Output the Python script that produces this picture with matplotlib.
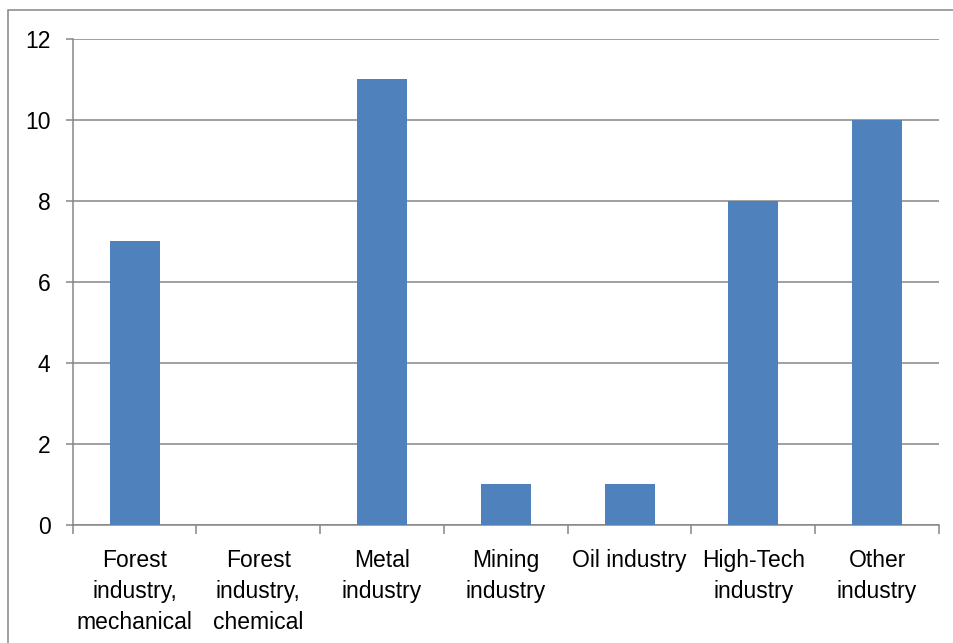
import numpy as np
import matplotlib.pyplot as plt
from matplotlib.patches import Rectangle

categories = ['Forest\nindustry,\nmechanical', 'Forest\nindustry,\nchemical',
              'Metal\nindustry', 'Mining\nindustry', 'Oil industry',
              'High-Tech\nindustry', 'Other\nindustry']
values = [7, 0, 11, 1, 1, 8, 10]
y_ticks = [0, 2, 4, 6, 8, 10, 12]

plt.rcParams['font.family'] = ['Liberation Sans', 'DejaVu Sans']

W, H = 954, 643
fig = plt.figure(figsize=(W / 100, H / 100), dpi=100)
ax = fig.add_axes([72.7 / W, (H - 525) / H, (939 - 72.7) / W, (525 - 38.5) / H])

grey = '#868686'
x = np.arange(len(categories))
ax.bar(x, values, width=0.404, color='#4F81BD', zorder=3)

ax.set_xlim(-0.5, len(categories) - 0.5)
ax.set_ylim(0, 12)
ax.set_yticks(y_ticks)
ax.yaxis.grid(True, color=grey, linewidth=1.1, zorder=0)

ax.set_xticks(x)
ax.set_xticklabels(categories, fontsize=16.5)
for lbl in ax.get_xticklabels():
    lbl.set_linespacing(1.45)
ax.set_xticks(np.arange(len(categories) + 1) - 0.5, minor=True)
ax.tick_params(axis='x', which='major', length=0, pad=17)
ax.tick_params(axis='x', which='minor', length=6.5, width=1.1, color=grey)
ax.tick_params(axis='y', labelsize=16.5, length=5, width=1.1, color=grey, pad=11)

for side in ['top', 'right']:
    ax.spines[side].set_visible(False)
for side in ['left', 'bottom']:
    ax.spines[side].set_color(grey)
    ax.spines[side].set_linewidth(1.1)

# outer chart border (runs off the right/bottom edge)
fig.patches.append(Rectangle((8 / W, -0.1), 1.2, (H - 10) / H + 0.1,
                             transform=fig.transFigure, fill=False,
                             edgecolor=grey, linewidth=1.1))

fig.savefig('out.png', dpi=100, facecolor='white')
